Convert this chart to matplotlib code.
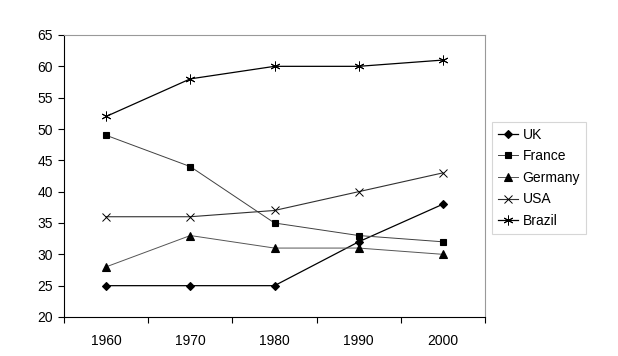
import matplotlib.pyplot as plt
import numpy as np

plt.rcParams['font.family'] = ['Liberation Sans', 'DejaVu Sans']

years = ['1960', '1970', '1980', '1990', '2000']
series_names = ['UK', 'France', 'Germany', 'USA', 'Brazil']
uk = [25, 25, 25, 32, 38]
france = [49, 44, 35, 33, 32]
germany = [28, 33, 31, 31, 30]
usa = [36, 36, 37, 40, 43]
brazil = [52, 58, 60, 60, 61]

series = [uk, france, germany, usa, brazil]
markers = ['D', 's', '^', 'x', (6, 2, 0)]
msizes = [4.5, 5, 5.5, 6, 7]
mews = [0.8, 0.8, 0.8, 0.7, 0.7]
lcolors = ['#000000', '#404040', '#555555', '#303030', '#000000']
lwidths = [0.9, 0.7, 0.7, 0.8, 0.9]

fig = plt.figure(figsize=(6.18, 3.56), dpi=100)
ax = fig.add_axes([64/618, 39/356, (485-64)/618, (317-35)/356])

x = np.arange(len(years))
for name, vals, m, ms, mw, c, lw in zip(series_names, series, markers, msizes, mews, lcolors, lwidths):
    ax.plot(x, vals, color=c, lw=lw, marker=m, ms=ms, mfc='black', mec='black',
            mew=mw, label=name)

ax.set_xlim(-0.5, 4.5)
ax.set_ylim(20, 65)
ax.set_yticks(range(20, 66, 5))
ax.set_xticks(x)
ax.set_xticklabels(years)
ax.set_xticks(np.arange(-0.5, 4.6, 1), minor=True)
ax.tick_params(axis='x', which='major', length=0, pad=12, labelsize=10)
ax.tick_params(axis='x', which='minor', length=4, width=0.8, direction='out')
ax.tick_params(axis='y', length=4, width=0.8, direction='out', labelsize=10, pad=4)

for side in ['left', 'bottom']:
    ax.spines[side].set_color('black')
    ax.spines[side].set_linewidth(0.8)
for side in ['top', 'right']:
    ax.spines[side].set_color('#999999')
    ax.spines[side].set_linewidth(0.8)

leg = ax.legend(loc='upper left', bbox_to_anchor=(492/618, (356-122)/356),
                bbox_transform=fig.transFigure, frameon=True, fancybox=False,
                fontsize=10, handlelength=1.5, handletextpad=0.3,
                labelspacing=0.55, borderpad=0.4, borderaxespad=0)
leg.get_frame().set_edgecolor('#cccccc')
leg.get_frame().set_linewidth(0.8)

fig.savefig('out.png', dpi=100)
